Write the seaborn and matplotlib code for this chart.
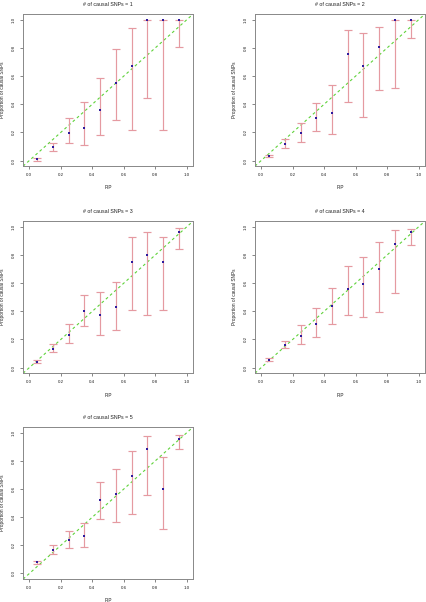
# calibracion de PIP: proporcion de SNPs causales por bin de PIP
import numpy as np
import pandas as pd
import matplotlib
matplotlib.use("Agg")
import matplotlib.pyplot as plt
import seaborn as sns

pip = [0.05, 0.15, 0.25, 0.35, 0.45, 0.55, 0.65, 0.75, 0.85, 0.95]
n_causal = [1, 2, 3, 4, 5]

prop_1 = [0.01, 0.094, 0.195, 0.23, 0.359, 0.552, 0.671, 1.0, 1.0, 1.0]
lo_1   = [0.0, 0.068, 0.122, 0.113, 0.183, 0.289, 0.218, 0.444, 0.214, 0.81]
hi_1   = [0.02, 0.127, 0.303, 0.413, 0.589, 0.789, 0.944, 1.0, 1.0, 1.0]

prop_2 = [0.033, 0.117, 0.192, 0.30, 0.34, 0.756, 0.671, 0.805, 1.0, 1.0]
lo_2   = [0.028, 0.092, 0.134, 0.209, 0.19, 0.415, 0.312, 0.498, 0.514, 0.873]
hi_2   = [0.038, 0.155, 0.265, 0.411, 0.54, 0.93, 0.908, 0.946, 1.0, 1.0]

prop_3 = [0.042, 0.134, 0.233, 0.402, 0.374, 0.428, 0.748, 0.80, 0.748, 0.967]
lo_3   = [0.033, 0.108, 0.172, 0.299, 0.235, 0.264, 0.412, 0.376, 0.412, 0.84]
hi_3   = [0.052, 0.169, 0.308, 0.515, 0.539, 0.609, 0.927, 0.96, 0.927, 0.99]

prop_4 = [0.056, 0.162, 0.226, 0.311, 0.435, 0.555, 0.591, 0.699, 0.875, 0.96]
lo_4   = [0.045, 0.139, 0.165, 0.214, 0.313, 0.376, 0.362, 0.398, 0.529, 0.871]
hi_4   = [0.066, 0.19, 0.304, 0.424, 0.565, 0.722, 0.784, 0.892, 0.976, 0.988]

prop_5 = [0.08, 0.165, 0.238, 0.267, 0.519, 0.564, 0.691, 0.887, 0.599, 0.958]
lo_5   = [0.071, 0.137, 0.179, 0.189, 0.384, 0.368, 0.42, 0.559, 0.314, 0.884]
hi_5   = [0.092, 0.2, 0.304, 0.358, 0.651, 0.741, 0.873, 0.979, 0.83, 0.986]

props = [prop_1, prop_2, prop_3, prop_4, prop_5]
lows  = [lo_1, lo_2, lo_3, lo_4, lo_5]
highs = [hi_1, hi_2, hi_3, hi_4, hi_5]

sns.set_style("white")
plt.rcParams["font.family"] = ["Liberation Sans", "DejaVu Sans"]

fig = plt.figure(figsize=(4.27, 6.02), dpi=100)

# posiciones de los paneles (left, bottom) en fraccion de figura
w, h = 0.398, 0.2525
pos = [(0.054, 0.724), (0.597, 0.724),
       (0.054, 0.380), (0.597, 0.380),
       (0.054, 0.038)]

for (x0, y0), k, p, lo, hi in zip(pos, n_causal, props, lows, highs):
    ax = fig.add_axes([x0, y0, w, h])
    df = pd.DataFrame({"pip": pip, "prop": p, "lo": lo, "hi": hi})

    ax.axline((0, 0), slope=1, color="#5fd23a", lw=0.8, ls=(0, (2.5, 2.5)), zorder=1)
    ax.errorbar(df["pip"], df["prop"],
                yerr=[df["prop"] - df["lo"], df["hi"] - df["prop"]],
                fmt="none", ecolor="#e59aa1", elinewidth=0.85,
                capsize=2.6, capthick=0.85, zorder=2)
    sns.scatterplot(data=df, x="pip", y="prop", ax=ax, color="#2e1a9c",
                    marker="s", s=3.8, linewidth=0, zorder=3)

    ax.set_xlim(-0.04, 1.04)
    ax.set_ylim(-0.04, 1.04)
    ticks = np.round(np.arange(0, 1.01, 0.2), 1)
    ax.set_xticks(ticks)
    ax.set_yticks(ticks)
    ax.set_xticklabels([f"{t:.1f}" for t in ticks], fontsize=3.2)
    ax.set_yticklabels([f"{t:.1f}" for t in ticks], fontsize=3.2,
                       rotation=90, va="center")
    ax.tick_params(length=2, width=0.5, color="#555555", pad=3,
                   bottom=True, left=True, labelcolor="#222222")
    for s in ax.spines.values():
        s.set_color("#888888")
        s.set_linewidth(0.7)

    ax.set_xlabel("PIP", fontsize=3.4, labelpad=6, color="#222222")
    ax.set_ylabel("Proportion of causal SNPs", fontsize=3.4, labelpad=5,
                  color="#222222")
    ax.set_title(f"# of causal SNPs = {k}", fontsize=3.8, pad=6, color="#222222")

plt.savefig("out.png", dpi=100)
plt.close()
